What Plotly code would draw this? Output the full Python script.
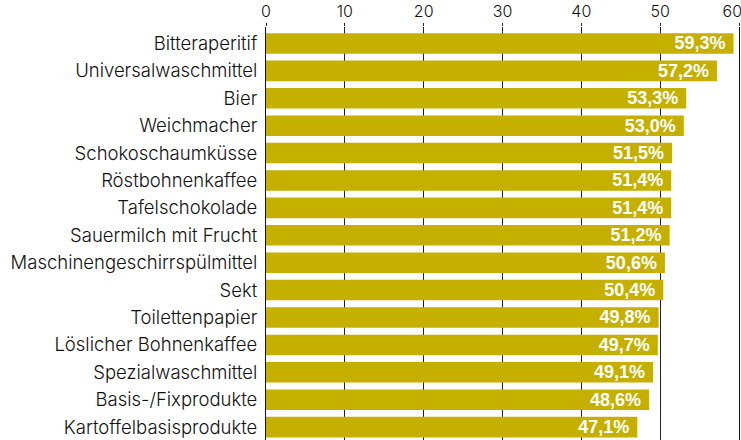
import plotly.graph_objects as go

categories = ["Bitteraperitif", "Universalwaschmittel", "Bier", "Weichmacher",
              "Schokoschaumküsse", "Röstbohnenkaffee", "Tafelschokolade",
              "Sauermilch mit Frucht", "Maschinengeschirrspülmittel", "Sekt",
              "Toilettenpapier", "Löslicher Bohnenkaffee", "Spezialwaschmittel",
              "Basis-/Fixprodukte", "Kartoffelbasisprodukte"]
values = [59.3, 57.2, 53.3, 53.0, 51.5, 51.4, 51.4, 51.2, 50.6, 50.4,
          49.8, 49.7, 49.1, 48.6, 47.1]
x_ticks = [0, 10, 20, 30, 40, 50, 60]
x_tick_labels = ["0", "10", "20", "30", "40", "50", "60\u00a0\u00a0\u00a0"]

labels = [f"{v:.1f}%".replace(".", ",") + "\u00a0" for v in values]

fig = go.Figure(go.Bar(
    x=values, y=categories, orientation="h",
    marker=dict(color="#C5B000", line=dict(width=0)),
    width=0.75,
    text=labels, textposition="inside", insidetextanchor="end",
    constraintext="none", textangle=0,
    textfont=dict(family="Liberation Sans", size=18, color="white", weight="bold"),
    cliponaxis=True,
))

fig.update_layout(
    width=741, height=440,
    margin=dict(l=266, r=2, t=27, b=0, autoexpand=False),
    paper_bgcolor="white", plot_bgcolor="white",
    showlegend=False,
    xaxis=dict(
        side="top", range=[0, 60], tickvals=x_ticks, ticktext=x_tick_labels,
        showgrid=True, gridcolor="#222", gridwidth=1,
        zeroline=False, automargin=False,
        ticks="outside", ticklen=3, tickcolor="#222",
        ticklabeloverflow="allow",
        tickfont=dict(family="Inter", size=16, color="#111", weight=300),
        fixedrange=True,
    ),
    yaxis=dict(
        categoryorder="array", categoryarray=categories,
        range=[14.47, -0.6], automargin=False,
        showgrid=False, zeroline=False,
        showline=True, mirror=True, linecolor="#111", linewidth=1,
        ticks="", ticklabelstandoff=4,
        tickfont=dict(family="Inter", size=18.5, color="#111", weight=300),
    ),
)

fig.write_html("out.html")
